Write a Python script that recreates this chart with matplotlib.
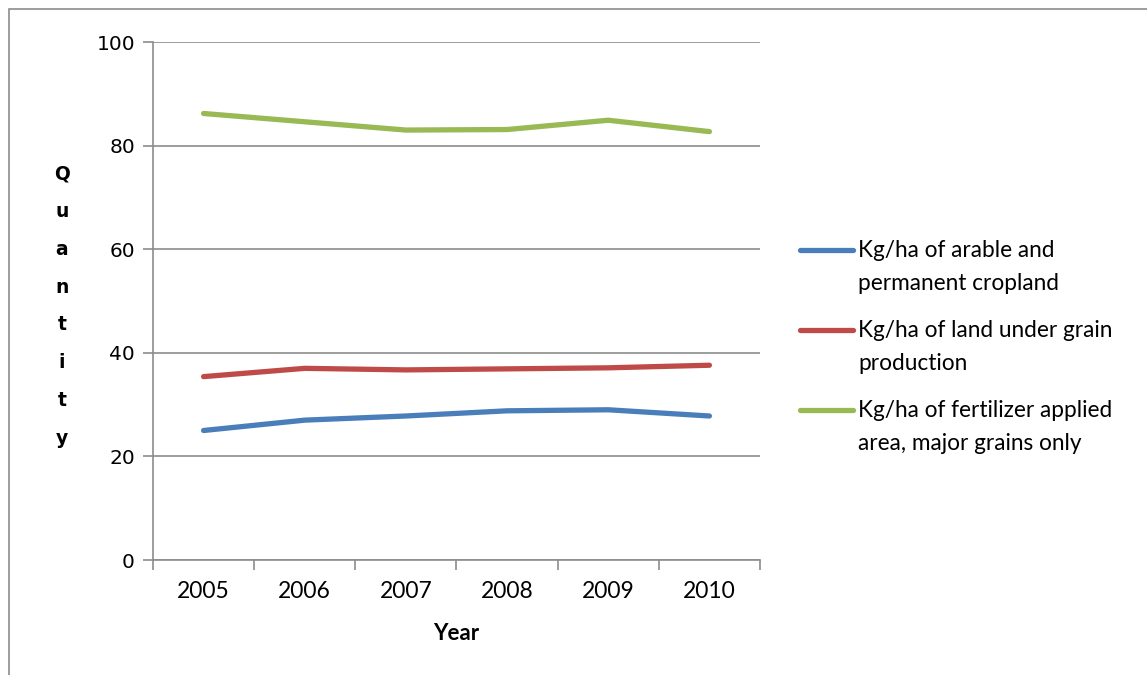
import matplotlib
matplotlib.use('Agg')
import matplotlib.pyplot as plt
from matplotlib.lines import Line2D
from matplotlib.patches import Rectangle

years = ["2005", "2006", "2007", "2008", "2009", "2010"]
arable = [25.0, 27.0, 27.8, 28.8, 29.0, 27.8]
grain_land = [35.4, 37.0, 36.7, 36.9, 37.1, 37.6]
fert_area = [86.2, 84.6, 83.0, 83.1, 84.9, 82.7]

series_labels = [
    "Kg/ha of arable and\npermanent cropland",
    "Kg/ha of land under grain\nproduction",
    "Kg/ha of fertilizer applied\narea, major grains only",
]
colors = ["#4A7EBB", "#BE4B48", "#98B954"]

W, H = 1147, 675
fig = plt.figure(figsize=(W / 100, H / 100), dpi=100)
ax = fig.add_axes([153 / W, 1 - 560 / H, (760 - 153) / W, (560 - 42) / H])

x = list(range(len(years)))
for vals, c in zip([arable, grain_land, fert_area], colors):
    ax.plot(x, vals, color=c, linewidth=3.8, solid_capstyle='round', solid_joinstyle='round', zorder=3)

grid_c = "#8C8C8C"
ax.set_xlim(-0.5, len(years) - 0.5)
ax.set_ylim(0, 100)
ax.set_yticks(range(0, 101, 20))
ax.yaxis.grid(True, color=grid_c, linewidth=1.2)
ax.set_axisbelow(True)
for s in ["top", "right"]:
    ax.spines[s].set_visible(False)
for s in ["left", "bottom"]:
    ax.spines[s].set_color(grid_c)
    ax.spines[s].set_linewidth(1.2)

# category ticks sit between the years, labels centered under each year
ax.set_xticks([i - 0.5 for i in range(len(years) + 1)])
ax.set_xticklabels([])
ax.set_xticks(x, minor=True)
ax.set_xticklabels(years, minor=True, fontfamily="Lato", fontsize=16.5)
ax.tick_params(axis='x', which='major', direction='out', length=7, color=grid_c, width=1.2)
ax.tick_params(axis='x', which='minor', length=0, pad=15)
ax.tick_params(axis='y', direction='out', length=7, color=grid_c, width=1.2, labelsize=14.5, pad=6)
for lbl in ax.get_yticklabels():
    lbl.set_fontfamily("DejaVu Sans")

fig.text(456 / W, 1 - 634 / H, "Year", ha='center', va='center',
         fontfamily="Lato", fontweight='bold', fontsize=16)
fig.text(62 / W, 1 - 306 / H, "\n".join("Quantity"), ha='center', va='center',
         fontfamily="DejaVu Sans", fontweight='bold', fontsize=13.5, linespacing=2.25)

# legend on the right, handle aligned with the first text line
legend_y = [250, 330, 410]
for label, c, ly in zip(series_labels, colors, legend_y):
    fig.add_artist(Line2D([800 / W, 853 / W], [1 - ly / H, 1 - ly / H], color=c,
                          linewidth=3.8, solid_capstyle='round'))
    fig.text(858 / W, 1 - (ly - 10) / H, label, ha='left', va='top',
             fontfamily="Lato", fontsize=16.3, linespacing=1.68)

fig.add_artist(Rectangle((9 / W, -0.1), 1.2, 1 - 9 / H + 0.1, fill=False,
                         edgecolor="#8C8C8C", linewidth=1.2, transform=fig.transFigure))

fig.savefig("out.png", dpi=100)
